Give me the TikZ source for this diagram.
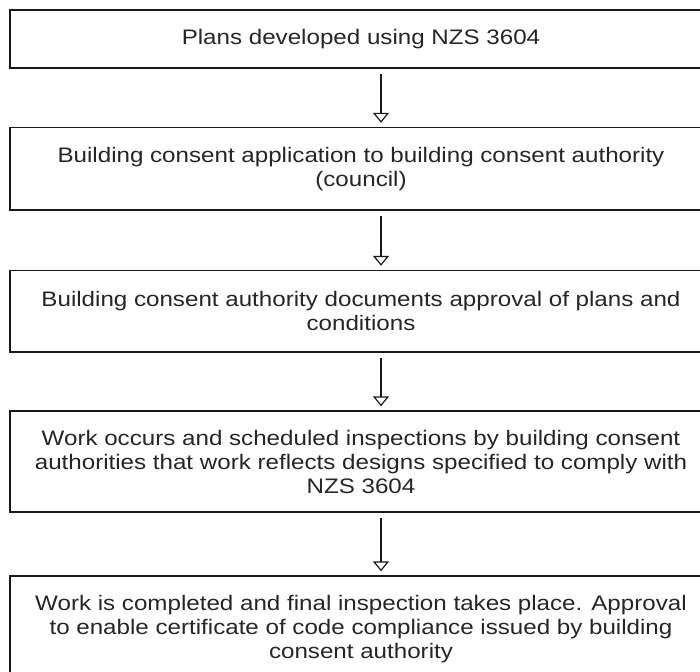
\documentclass[tikz,border=0pt]{standalone}
\usepackage{fontspec}
\setmainfont{Liberation Sans}[FakeStretch=1.15]
\usetikzlibrary{arrows.meta,calc}
\begin{document}
\begin{tikzpicture}[x=1pt,y=-1pt,
  stepbox/.style={draw=black!90, line width=1.4pt, rectangle, minimum width=702pt,
    align=center, inner sep=0pt, text=black!85, font=\fontsize{21}{24}\selectfont},
  flow/.style={draw=black!90, line width=1.3pt,
    -{Triangle[open,width=16pt,length=10pt,line width=1.2pt]},
    shorten <=5pt, shorten >=4pt}]
\clip (0,0) rectangle (700,671);
\fill[white] (0,0) rectangle (700,671);
\coordinate (ax) at (381,0);
\node[stepbox, minimum height=58pt] (b1) at (361,39) {Plans developed using NZS 3604};
\node[stepbox, minimum height=82.5pt] (b2) at (361,168.75) {Building consent application to building consent authority\\(council)};
\node[stepbox, minimum height=81.5pt] (b3) at (361,311.25) {Building consent authority documents approval of plans and\\conditions};
\node[stepbox, minimum height=101pt] (b4) at (361,461.5) {Work occurs and scheduled inspections by building consent\\authorities that work reflects designs specified to comply with\\NZS 3604};
\node[stepbox, minimum height=106pt] (b5) at (361,629) {Work is completed and final inspection takes place. Approval\\to enable certificate of code compliance issued by building\\consent authority};
\draw[flow] (b1.south -| ax) -- (b2.north -| ax);
\draw[flow] (b2.south -| ax) -- (b3.north -| ax);
\draw[flow] (b3.south -| ax) -- (b4.north -| ax);
\draw[flow] (b4.south -| ax) -- (b5.north -| ax);
\end{tikzpicture}
\end{document}
